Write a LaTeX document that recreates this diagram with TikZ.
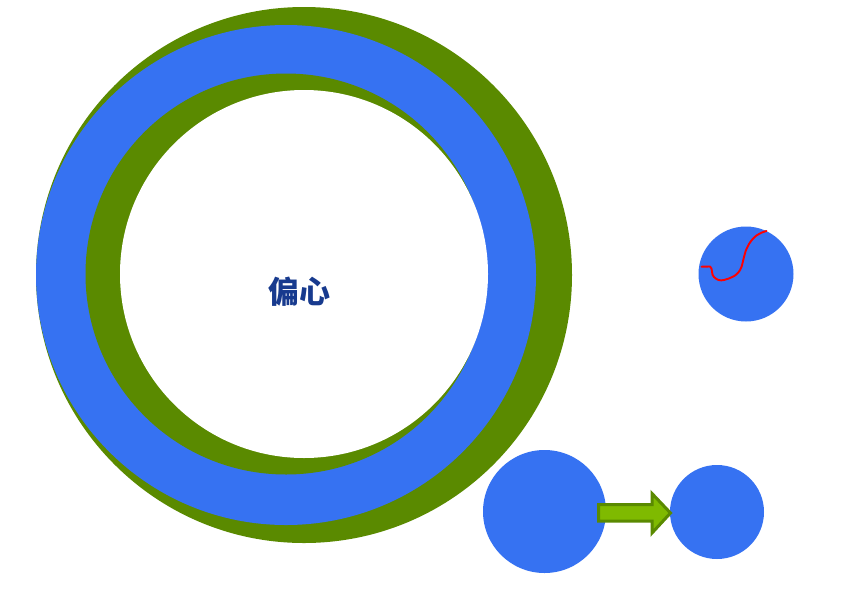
\documentclass[tikz,border=0pt]{standalone}
\usepackage{fontspec}
\newfontfamily\cjk{Noto Sans CJK SC}
\definecolor{ringgreen}{HTML}{5A8A00}
\definecolor{discblue}{HTML}{3672F2}
\definecolor{txtblue}{HTML}{173A8E}
\definecolor{arrowfill}{HTML}{7FBA00}
\tikzset{
  disc/.style={fill=discblue, draw=none},
  gring/.style={fill=ringgreen, draw=none},
  lbl/.style={font=\cjk\bfseries\fontsize{31}{34}\selectfont, text=txtblue}
}
\begin{document}
\begin{tikzpicture}[x=1pt,y=-1pt]
\useasboundingbox (0,0) rectangle (843,595);
\fill[white] (0,0) rectangle (843,595);
% big eccentric rings
\fill[gring] (304,275) circle (268);
\fill[disc] (286,275) circle (250);
\fill[gring] (286,274) circle (200.5);
\fill[white] (304,274) circle (184);
\node[lbl] (label) at (299,292) {偏心};
% top-right disc with red curve
\fill[disc] (746,274) circle (47.5);
\draw[red, line width=1.9pt, line cap=round, line join=round]
  (701.5,266.7) -- (710,266.5) .. controls (713,268) and (711,275) .. (714,277)
  .. controls (717,280) and (720,281) .. (724,280)
  .. controls (731,278) and (738,276) .. (741.5,267)
  .. controls (744,258) and (745,250) .. (749,244)
  .. controls (754,236) and (759,233) .. (766.5,231);
% bottom discs
\node[circle, disc, minimum size=123pt, inner sep=0] (big) at (544.5,511.5) {};
\node[circle, disc, minimum size=94pt, inner sep=0] (small) at (717,512) {};
% arrow
\draw[draw=ringgreen, fill=arrowfill, line width=3pt, line join=miter]
  (598.5,504.5) -- (652,504.5) -- (652,493.5) -- (670.5,513) -- (652,533) -- (652,521) -- (598.5,521) -- cycle;
\end{tikzpicture}
\end{document}
